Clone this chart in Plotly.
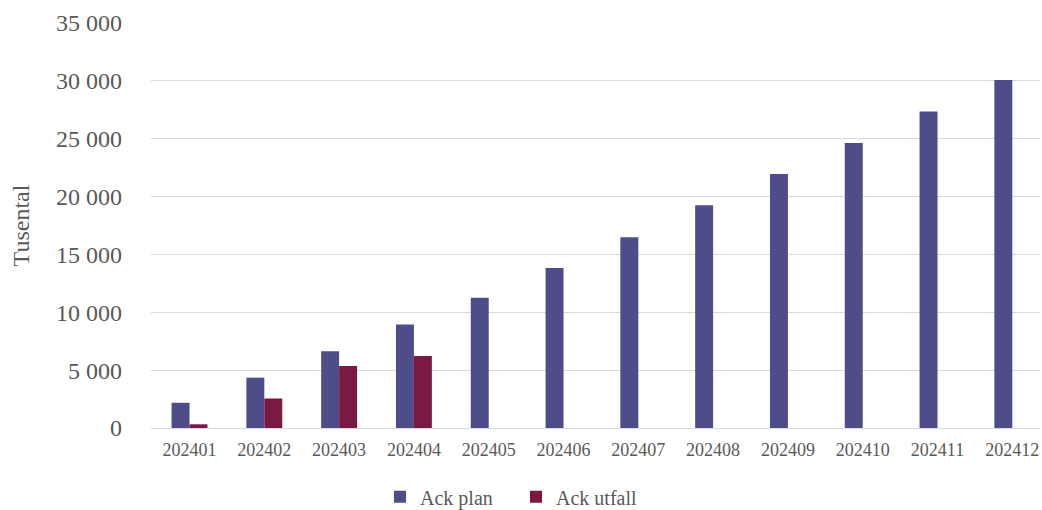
import plotly.graph_objects as go

# Monthly periods and cumulative values (thousands)
months = ["202401", "202402", "202403", "202404", "202405", "202406",
          "202407", "202408", "202409", "202410", "202411", "202412"]
ack_plan = [2180, 4350, 6630, 8950, 11250, 13830, 16480, 19250,
            21950, 24620, 27350, 30070]
ack_utfall = [320, 2550, 5350, 6220]

y_ticks = [0, 5000, 10000, 15000, 20000, 25000, 30000, 35000]
y_tick_text = ["0", "5 000", "10 000", "15 000", "20 000", "25 000", "30 000", "35 000"]

FONT = "Liberation Serif"
TEXT = "#595959"

fig = go.Figure()
fig.add_trace(go.Bar(x=months, y=ack_plan, name="Ack plan",
                     marker=dict(color="#4f4c8a", line=dict(width=0))))
fig.add_trace(go.Bar(x=months[:len(ack_utfall)], y=ack_utfall, name="Ack utfall",
                     marker=dict(color="#7a1a44", line=dict(width=0))))

fig.update_layout(
    width=1042, height=510,
    margin=dict(l=151, r=2, t=23, b=82),
    paper_bgcolor="white", plot_bgcolor="white",
    barmode="group", bargap=0.52, bargroupgap=0,
    font=dict(family=FONT, color=TEXT),
    showlegend=True,
    legend=dict(orientation="h", x=0.2576, xanchor="left",
                yref="container", y=0.026, yanchor="middle",
                font=dict(size=20, family=FONT, color=TEXT),
                itemwidth=30, entrywidth=91, entrywidthmode="pixels",
                traceorder="normal"),
)
fig.update_xaxes(
    type="category", range=[-0.515, 11.37],
    showgrid=False, showline=False, zeroline=False, ticks="",
    tickfont=dict(size=18, family=FONT, color=TEXT),
    ticklabelstandoff=9,
)
fig.update_yaxes(
    range=[0, 35000], tickvals=y_ticks, ticktext=y_tick_text,
    showgrid=True, gridcolor="#d9d9d9", gridwidth=1,
    zeroline=True, zerolinecolor="#d9d9d9", zerolinewidth=1,
    showline=False, ticks="",
    tickfont=dict(size=24, family=FONT, color=TEXT),
    ticklabelstandoff=28,
    title=dict(text="Tusental", font=dict(size=24, family=FONT, color=TEXT),
               standoff=19),
)

fig.write_html("out.html")
